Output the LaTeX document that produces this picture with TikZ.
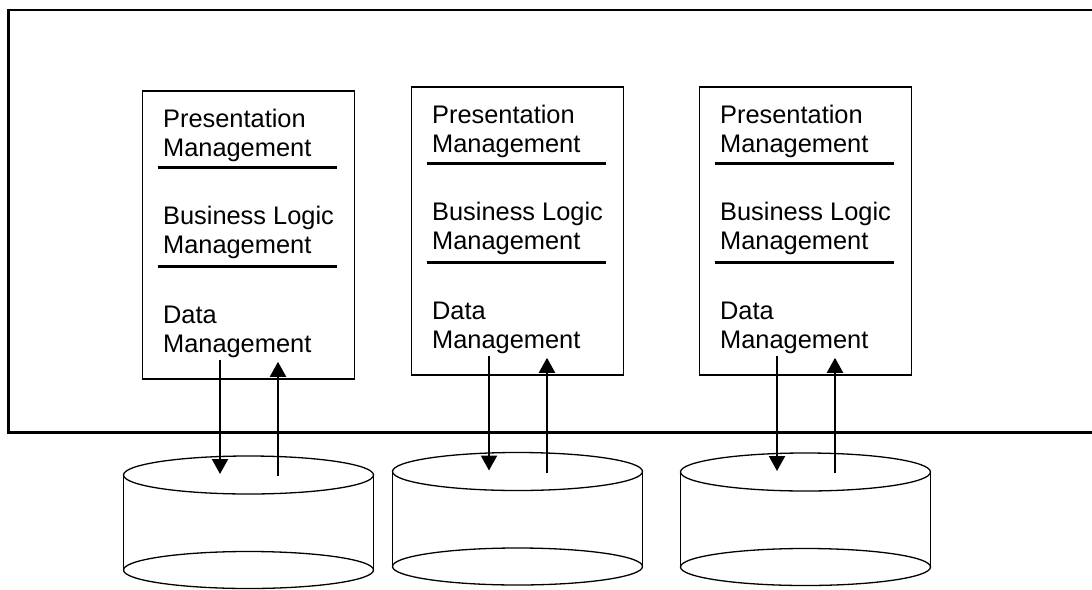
\documentclass[tikz,border=0pt]{standalone}
\usepackage{fontspec}
\setmainfont{Liberation Sans}
\usetikzlibrary{positioning,arrows.meta,calc}

\begin{document}
\begin{tikzpicture}[x=0.5pt,y=-0.5pt,
    tier/.style={draw,line width=0.8pt,minimum width=106pt,minimum height=144pt,inner sep=0pt},
    layer/.style={align=left,inner sep=0pt,font=\fontsize{12.7}{14.75}\selectfont},
    sepline/.style={line width=1.6pt},
    flow/.style={line width=1.1pt,-{Triangle[length=7.5pt,width=8pt]}},
    disk/.style={line width=0.65pt}]
    \useasboundingbox (0,0) rectangle (1092,589);
    % host frame, runs off the right edge
    \draw[line width=1.1pt] (1100,10) -- (8.5,10) -- (8.5,432.5) -- (1100,432.5);
    \foreach \i/\cx/\cy/\dy in {1/248.5/235/475, 2/517.5/231/471.5, 3/805.5/231/472}{
        \node[tier] (tier\i) at (\cx,\cy) {};
        \node[layer,below right=9pt and 10.5pt of tier\i.north west] (pres\i) {Presentation\\Management};
        \node[layer,below right=57.5pt and 10.5pt of tier\i.north west] (logic\i) {Business Logic\\Management};
        \node[layer,below right=107.5pt and 10.5pt of tier\i.north west] (data\i) {Data\\Management};
        \draw[sepline] ([xshift=8pt,yshift=-38.5pt]tier\i.north west) -- ++(89.5pt,0pt);
        \draw[sepline] ([xshift=8pt,yshift=-88pt]tier\i.north west) -- ++(89.5pt,0pt);
        % database
        \coordinate (db\i) at (\cx,\dy);
        \draw[disk] ([xshift=-62.5pt]db\i) -- ++(0pt,-47.5pt);
        \draw[disk] ([xshift=62.5pt]db\i) -- ++(0pt,-47.5pt);
        \draw[disk,fill=white] ([yshift=-47.5pt]db\i) ellipse [x radius=62.5pt,y radius=9.25pt];
        \draw[disk,fill=white] (db\i) ellipse [x radius=62.5pt,y radius=9.5pt];
        \draw[flow] ([xshift=-14.25pt,yshift=10pt]tier\i.south) -- ([xshift=-14.25pt,yshift=0.5pt]db\i);
        \draw[flow] ([xshift=14.75pt,yshift=-0.5pt]db\i) -- ([xshift=14.75pt,yshift=9pt]tier\i.south);
    }
\end{tikzpicture}
\end{document}
